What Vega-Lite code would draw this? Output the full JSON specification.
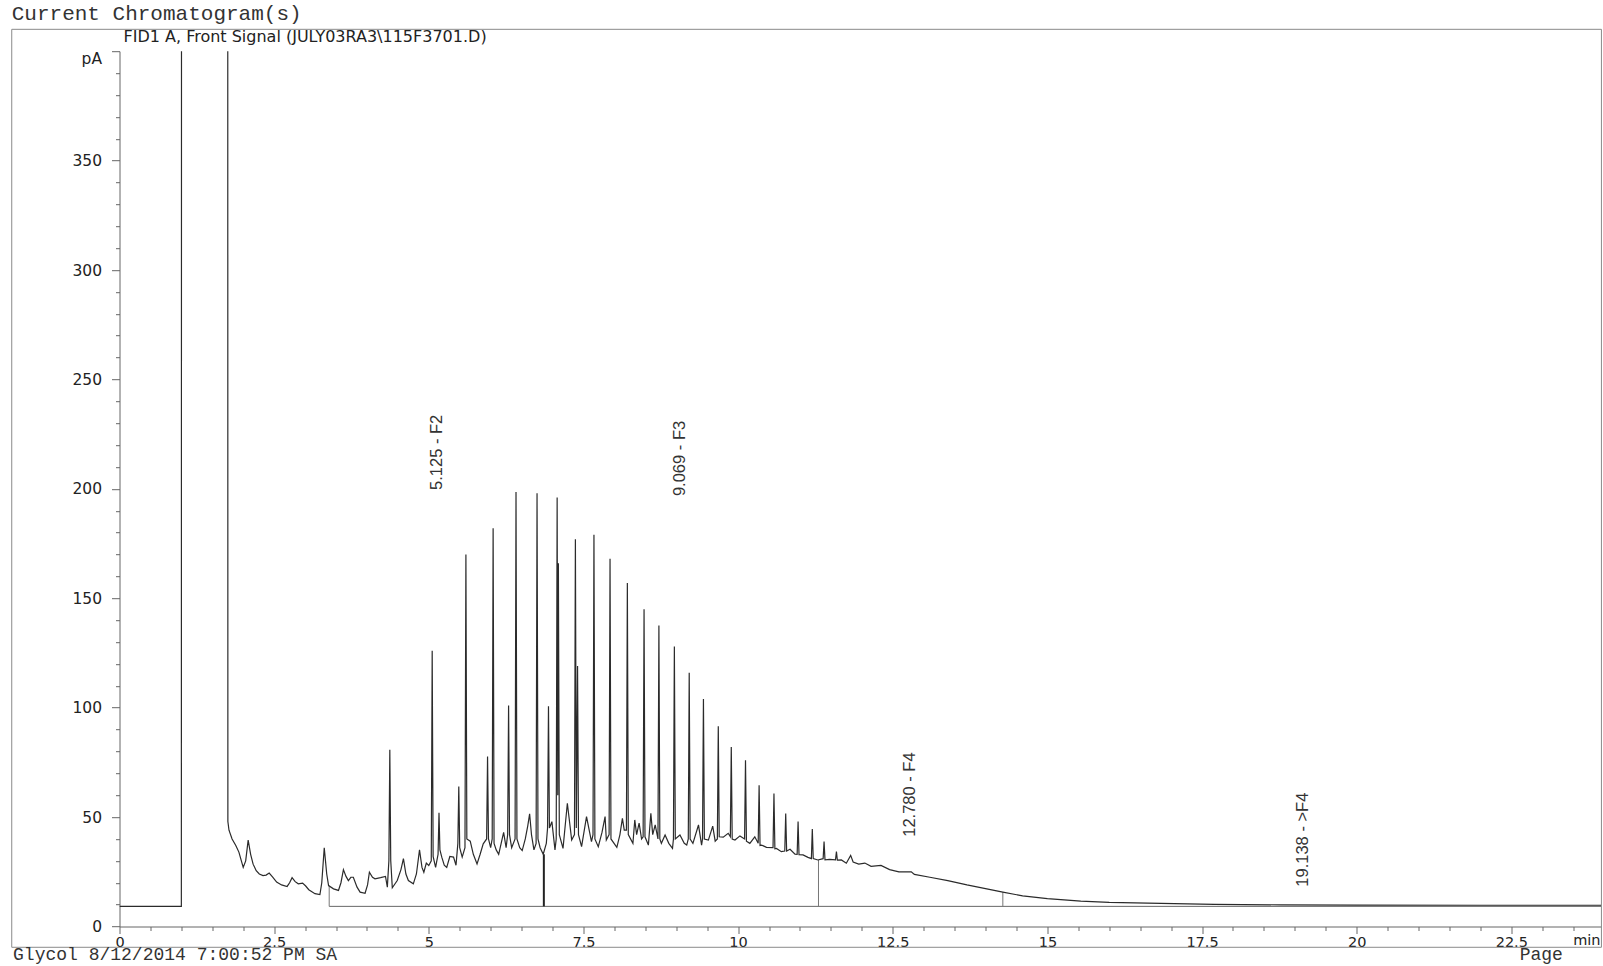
{
  "$schema": "https://vega.github.io/schema/vega-lite/v6.json",
  "width": 1481.5,
  "height": 875.3,
  "autosize": {"type": "none"},
  "padding": {"left": 119.5, "top": 51.2, "right": 2, "bottom": 39.5},
  "background": "white",
  "config": {"view": {"stroke": null}},
  "datasets": {
    "trace": [
      {"t":0,"pA":9.2},{"t":1.0,"pA":9.2},{"t":1.008,"pA":1500},{"t":1.745,"pA":1500},{"t":1.752,"pA":48},
      {"t":1.77,"pA":44},{"t":1.82,"pA":40},{"t":1.88,"pA":37},{"t":1.93,"pA":34},{"t":1.97,"pA":30},
      {"t":2.0,"pA":27},{"t":2.04,"pA":30},{"t":2.08,"pA":39.5},{"t":2.12,"pA":33},{"t":2.16,"pA":28.5},
      {"t":2.21,"pA":25.5},{"t":2.26,"pA":24},{"t":2.32,"pA":23.3},{"t":2.37,"pA":23.5},{"t":2.42,"pA":24.4},
      {"t":2.48,"pA":22.5},{"t":2.54,"pA":20.3},{"t":2.62,"pA":19},{"t":2.71,"pA":18.3},{"t":2.75,"pA":20},
      {"t":2.79,"pA":22.3},{"t":2.84,"pA":20.5},{"t":2.89,"pA":19.5},{"t":2.96,"pA":19.8},{"t":3.01,"pA":18.5},
      {"t":3.06,"pA":16.8},{"t":3.16,"pA":15},{"t":3.24,"pA":14.6},{"t":3.27,"pA":20},{"t":3.31,"pA":36},
      {"t":3.35,"pA":24},{"t":3.38,"pA":18.7},{"t":3.46,"pA":17.2},{"t":3.54,"pA":16.5},{"t":3.58,"pA":20},
      {"t":3.62,"pA":26},{"t":3.66,"pA":23},{"t":3.70,"pA":21},{"t":3.74,"pA":22.5},{"t":3.78,"pA":22.5},
      {"t":3.84,"pA":18},{"t":3.89,"pA":15.7},{"t":3.97,"pA":15.2},{"t":4.01,"pA":19},{"t":4.04,"pA":24.8},
      {"t":4.09,"pA":22.5},{"t":4.13,"pA":21.8},{"t":4.22,"pA":22.3},{"t":4.30,"pA":22.9},{"t":4.33,"pA":18},
      {"t":4.355,"pA":30},{"t":4.37,"pA":80.8},{"t":4.385,"pA":30},{"t":4.41,"pA":17.7},{"t":4.49,"pA":21},
      {"t":4.55,"pA":26},{"t":4.59,"pA":31},{"t":4.63,"pA":24},{"t":4.67,"pA":21},{"t":4.75,"pA":19.5},
      {"t":4.80,"pA":24},{"t":4.85,"pA":35},{"t":4.89,"pA":27},{"t":4.92,"pA":24.8},{"t":4.96,"pA":29},
      {"t":5.0,"pA":27.9},{"t":5.04,"pA":30},{"t":5.055,"pA":126},{"t":5.07,"pA":32},{"t":5.11,"pA":27},
      {"t":5.15,"pA":33},{"t":5.165,"pA":52},{"t":5.18,"pA":35},{"t":5.21,"pA":31.7},{"t":5.25,"pA":28},
      {"t":5.29,"pA":27},{"t":5.34,"pA":32},{"t":5.40,"pA":31.7},{"t":5.44,"pA":28},{"t":5.47,"pA":38},
      {"t":5.485,"pA":64},{"t":5.50,"pA":36},{"t":5.54,"pA":31.7},{"t":5.585,"pA":36},{"t":5.60,"pA":170},
      {"t":5.615,"pA":40},{"t":5.67,"pA":39},{"t":5.72,"pA":33},{"t":5.78,"pA":28.6},{"t":5.83,"pA":33},
      {"t":5.88,"pA":37.8},{"t":5.935,"pA":40},{"t":5.95,"pA":77.7},{"t":5.965,"pA":40},{"t":6.0,"pA":36},
      {"t":6.025,"pA":40},{"t":6.04,"pA":182},{"t":6.055,"pA":38},{"t":6.09,"pA":35},{"t":6.13,"pA":33},
      {"t":6.17,"pA":38},{"t":6.21,"pA":43},{"t":6.25,"pA":36},{"t":6.275,"pA":42},{"t":6.29,"pA":101},
      {"t":6.305,"pA":42},{"t":6.34,"pA":36},{"t":6.395,"pA":40},{"t":6.41,"pA":198.6},{"t":6.425,"pA":40},
      {"t":6.47,"pA":36},{"t":6.51,"pA":34.7},{"t":6.56,"pA":40},{"t":6.60,"pA":46},{"t":6.63,"pA":51.5},
      {"t":6.66,"pA":42},{"t":6.70,"pA":35},{"t":6.735,"pA":38},{"t":6.75,"pA":198},{"t":6.765,"pA":40},
      {"t":6.80,"pA":36},{"t":6.85,"pA":33},{"t":6.90,"pA":38},{"t":6.92,"pA":45},{"t":6.935,"pA":100.6},
      {"t":6.95,"pA":45},{"t":6.99,"pA":47.9},{"t":7.04,"pA":35},{"t":7.06,"pA":40},{"t":7.075,"pA":196},
      {"t":7.085,"pA":60},{"t":7.095,"pA":166},{"t":7.11,"pA":42},{"t":7.17,"pA":35.7},{"t":7.24,"pA":56.3},
      {"t":7.31,"pA":39.5},{"t":7.355,"pA":42},{"t":7.37,"pA":177},{"t":7.385,"pA":45},{"t":7.405,"pA":119},
      {"t":7.42,"pA":42},{"t":7.47,"pA":36.5},{"t":7.55,"pA":50.2},{"t":7.63,"pA":38.8},{"t":7.655,"pA":42},
      {"t":7.67,"pA":179},{"t":7.685,"pA":40},{"t":7.74,"pA":36.5},{"t":7.80,"pA":43},{"t":7.85,"pA":50.2},
      {"t":7.87,"pA":39.5},{"t":7.915,"pA":42},{"t":7.93,"pA":168},{"t":7.945,"pA":40},{"t":8.04,"pA":36.2},
      {"t":8.09,"pA":42},{"t":8.13,"pA":49.4},{"t":8.16,"pA":44},{"t":8.195,"pA":44},{"t":8.21,"pA":157},
      {"t":8.225,"pA":42},{"t":8.30,"pA":38},{"t":8.33,"pA":48.7},{"t":8.36,"pA":42},{"t":8.40,"pA":47.2},
      {"t":8.44,"pA":40},{"t":8.465,"pA":41},{"t":8.48,"pA":145},{"t":8.495,"pA":41},{"t":8.55,"pA":37.2},
      {"t":8.59,"pA":51.7},{"t":8.62,"pA":42},{"t":8.66,"pA":46.4},{"t":8.705,"pA":40},{"t":8.72,"pA":137.6},
      {"t":8.735,"pA":40},{"t":8.76,"pA":38},{"t":8.82,"pA":41.8},{"t":8.88,"pA":38},{"t":8.94,"pA":35.7},
      {"t":8.955,"pA":40},{"t":8.97,"pA":128},{"t":8.985,"pA":40},{"t":9.06,"pA":41.8},{"t":9.13,"pA":38},
      {"t":9.17,"pA":37.2},{"t":9.195,"pA":40},{"t":9.21,"pA":116},{"t":9.225,"pA":40},{"t":9.27,"pA":38},
      {"t":9.36,"pA":46.4},{"t":9.41,"pA":37.2},{"t":9.425,"pA":40},{"t":9.44,"pA":104},{"t":9.455,"pA":40},
      {"t":9.52,"pA":39.5},{"t":9.59,"pA":45.9},{"t":9.63,"pA":39},{"t":9.665,"pA":40},{"t":9.68,"pA":91.5},
      {"t":9.695,"pA":41},{"t":9.76,"pA":40.8},{"t":9.84,"pA":42.6},{"t":9.875,"pA":41},{"t":9.89,"pA":82},
      {"t":9.905,"pA":40},{"t":9.95,"pA":39.5},{"t":10.03,"pA":41.4},{"t":10.105,"pA":40},{"t":10.12,"pA":76},
      {"t":10.135,"pA":39},{"t":10.19,"pA":38},{"t":10.27,"pA":41},{"t":10.325,"pA":38},{"t":10.34,"pA":64.5},
      {"t":10.355,"pA":37},{"t":10.38,"pA":37.2},{"t":10.46,"pA":36.2},{"t":10.565,"pA":36},{"t":10.58,"pA":60.8},
      {"t":10.595,"pA":35.5},{"t":10.62,"pA":35.7},{"t":10.70,"pA":34.2},{"t":10.755,"pA":34.5},{"t":10.77,"pA":51.6},
      {"t":10.785,"pA":34.5},{"t":10.84,"pA":35.3},{"t":10.92,"pA":33.1},{"t":10.955,"pA":33},{"t":10.97,"pA":48},
      {"t":10.985,"pA":32.8},{"t":11.05,"pA":32.7},{"t":11.13,"pA":31.6},{"t":11.185,"pA":31},{"t":11.20,"pA":44.5},
      {"t":11.215,"pA":31},{"t":11.29,"pA":30.4},{"t":11.375,"pA":31},{"t":11.39,"pA":38.8},{"t":11.405,"pA":30.5},
      {"t":11.48,"pA":30.7},{"t":11.575,"pA":30.5},{"t":11.59,"pA":34.2},{"t":11.605,"pA":30.3},{"t":11.67,"pA":30.4},
      {"t":11.75,"pA":28.9},{"t":11.82,"pA":32.5},{"t":11.86,"pA":29.5},{"t":11.95,"pA":28.5},{"t":12.05,"pA":29},
      {"t":12.15,"pA":27.5},{"t":12.31,"pA":27.9},{"t":12.45,"pA":26},{"t":12.6,"pA":25},{"t":12.8,"pA":25},
      {"t":12.85,"pA":23.8},{"t":13.1,"pA":22.5},{"t":13.39,"pA":21},{"t":13.7,"pA":19},{"t":14.0,"pA":17.3},
      {"t":14.28,"pA":15.7},{"t":14.6,"pA":14},{"t":15.0,"pA":12.7},{"t":15.54,"pA":11.6},{"t":16.0,"pA":11},
      {"t":16.62,"pA":10.7},{"t":17.7,"pA":10.1},{"t":18.78,"pA":9.9},{"t":20,"pA":9.8},{"t":22,"pA":9.7},
      {"t":23.95,"pA":9.7}
    ],
    "baseline": [
      {"t":3.39,"t2":23.95,"pA":9.2}
    ],
    "drops_main": [
      {"t":6.86,"pA":33,"pA2":9.2}
    ],
    "drops_minor": [
      {"t":3.39,"pA":18.7,"pA2":9.2},
      {"t":11.30,"pA":30.4,"pA2":9.2},
      {"t":14.28,"pA":15.7,"pA2":9.2}
    ],
    "labels": [
      {"t":5.125,"pA":199.5,"text":"5.125 - F2"},
      {"t":9.069,"pA":196.7,"text":"9.069 - F3"},
      {"t":12.78,"pA":41,"text":"12.780 - F4"},
      {"t":19.138,"pA":18.2,"text":"19.138 - >F4"}
    ],
    "frame": [
      {"t":-1.742,"t2":23.957,"pA":410.0,"pA2":-9.5}
    ]
  },
  "encoding": {
    "x": {
      "field": "t", "type": "quantitative",
      "scale": {"domain": [0, 23.95], "nice": false, "zero": false},
      "axis": {
        "title": null, "grid": false,
        "values": [0,0.5,1,1.5,2,2.5,3,3.5,4,4.5,5,5.5,6,6.5,7,7.5,8,8.5,9,9.5,10,10.5,11,11.5,12,12.5,13,13.5,14,14.5,15,15.5,16,16.5,17,17.5,18,18.5,19,19.5,20,20.5,21,21.5,22,22.5,23,23.5],
        "labelExpr": "datum.value % 2.5 == 0 ? '' + datum.value : ''",
        "labelOverlap": false, "labelFlush": false,
        "domainColor": "#666", "tickColor": "#666",
        "tickSize": {"condition": {"test": "datum.value % 2.5 == 0", "value": 7}, "value": 4},
        "labelFont": "DejaVu Sans", "labelFontSize": 14.5, "labelColor": "#222",
        "labelPadding": 2
      }
    },
    "y": {
      "field": "pA", "type": "quantitative",
      "scale": {"domain": [0, 400], "nice": false, "zero": true},
      "axis": {
        "title": null, "grid": false,
        "values": [0,10,20,30,40,50,60,70,80,90,100,110,120,130,140,150,160,170,180,190,200,210,220,230,240,250,260,270,280,290,300,310,320,330,340,350,360,370,380,390,400],
        "labelExpr": "datum.value == 400 ? 'pA' : (datum.value % 50 == 0 ? '' + datum.value : '')",
        "labelOverlap": false, "labelFlush": false,
        "labelBaseline": {"condition": {"test": "datum.value == 400", "value": "top"}, "value": "middle"},
        "domainColor": "#666", "tickColor": "#666",
        "tickSize": {"condition": {"test": "datum.value % 50 == 0", "value": 8}, "value": 4},
        "labelFont": "DejaVu Sans", "labelFontSize": 15.5, "labelColor": "#222",
        "labelPadding": 10
      }
    }
  },
  "layer": [
    {
      "data": {"name": "frame"},
      "mark": {"type": "rect", "fillOpacity": 0, "stroke": "#8a8a8a", "strokeWidth": 1},
      "encoding": {
        "x2": {"field": "t2"},
        "y2": {"field": "pA2"}
      }
    },
    {
      "data": {"name": "baseline"},
      "mark": {"type": "rule", "color": "#666", "strokeWidth": 1},
      "encoding": {
        "x2": {"field": "t2"}
      }
    },
    {
      "data": {"name": "drops_minor"},
      "mark": {"type": "rule", "color": "#777", "strokeWidth": 1},
      "encoding": {
        "y2": {"field": "pA2"}
      }
    },
    {
      "data": {"name": "drops_main"},
      "mark": {"type": "rule", "color": "#222", "strokeWidth": 2},
      "encoding": {
        "y2": {"field": "pA2"}
      }
    },
    {
      "data": {"name": "trace"},
      "mark": {"type": "line", "clip": true, "color": "#2b2b2b", "strokeWidth": 1.2, "interpolate": "linear"},
      "encoding": {}
    },
    {
      "data": {"name": "labels"},
      "mark": {"type": "text", "angle": 270, "align": "left", "baseline": "middle", "font": "Liberation Sans", "fontSize": 16.5, "color": "#333"},
      "encoding": {
        "text": {"field": "text"}
      }
    },
    {
      "data": {"values": [
        {"t": -1.742, "pA": 414.25, "text": "Current Chromatogram(s)"}
      ]},
      "mark": {"type": "text", "align": "left", "baseline": "alphabetic", "font": "Liberation Mono", "fontSize": 21, "color": "#333"},
      "encoding": {
        "text": {"field": "text"}
      }
    },
    {
      "data": {"values": [
        {"t": -1.721, "pA": -15.35, "text": "Glycol 8/12/2014 7:00:52 PM SA"},
        {"t": 22.636, "pA": -15.35, "text": "Page"}
      ]},
      "mark": {"type": "text", "align": "left", "baseline": "alphabetic", "font": "Liberation Mono", "fontSize": 18, "color": "#333"},
      "encoding": {
        "text": {"field": "text"}
      }
    },
    {
      "data": {"values": [
        {"t": 0.065, "pA": 404.3, "text": "FID1 A, Front Signal (JULY03RA3\\115F3701.D)"}
      ]},
      "mark": {"type": "text", "align": "left", "baseline": "alphabetic", "font": "DejaVu Sans", "fontSize": 16, "color": "#222"},
      "encoding": {
        "text": {"field": "text"}
      }
    },
    {
      "data": {"values": [
        {"t": 23.5, "pA": -8.45, "text": "min"}
      ]},
      "mark": {"type": "text", "align": "left", "baseline": "alphabetic", "font": "DejaVu Sans", "fontSize": 14.5, "color": "#222"},
      "encoding": {
        "text": {"field": "text"}
      }
    }
  ]
}
